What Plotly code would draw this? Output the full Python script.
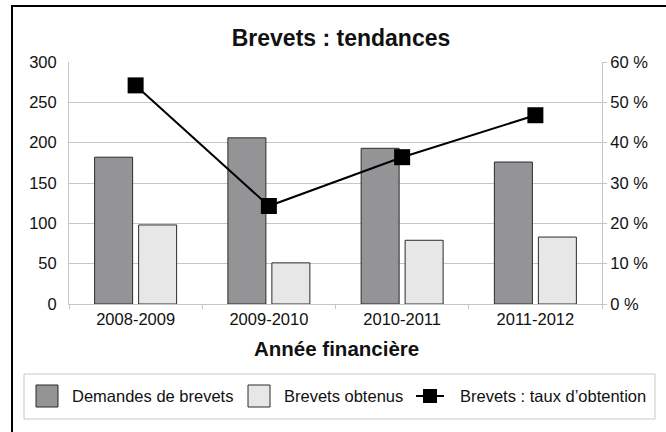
import plotly.graph_objects as go

categories = ["2008-2009", "2009-2010", "2010-2011", "2011-2012"]
demandes = [182, 206, 193, 176]
obtenus = [98, 51, 79, 83]
taux = [54.2, 24.3, 36.4, 46.8]

W, H = 666, 432
L, R, T, B = 69, 602, 62, 304  # plot area in pixels

def px(x):
    return (x - L) / (R - L)

def py(y):
    return (B - y) / (B - T)

FONT = "Liberation Sans, Arial, sans-serif"
TXT = "#111111"
DARK = "#949496"
LIGHT = "#e7e7e7"
EDGE = "#2b2b2b"
GRID = "#c6c6c6"

fig = go.Figure()
fig.add_trace(go.Bar(x=categories, y=demandes, name="Demandes de brevets",
                     marker=dict(color=DARK, line=dict(color=EDGE, width=1)),
                     showlegend=False))
fig.add_trace(go.Bar(x=categories, y=obtenus, name="Brevets obtenus",
                     marker=dict(color=LIGHT, line=dict(color=EDGE, width=1)),
                     showlegend=False))
fig.add_trace(go.Scatter(x=categories, y=taux, yaxis="y2", mode="lines+markers",
                         name="Brevets : taux d’obtention",
                         line=dict(color="black", width=2),
                         marker=dict(symbol="square", size=16, color="black"),
                         showlegend=False))

shapes = []
annotations = []

# outer frame
shapes.append(dict(type="rect", xref="paper", yref="paper",
                   x0=px(12), x1=px(720), y0=py(480), y1=py(6),
                   line=dict(color="black", width=2), fillcolor="rgba(0,0,0,0)", layer="below"))

# legend box
shapes.append(dict(type="rect", xref="paper", yref="paper",
                   x0=px(24), x1=px(655), y0=py(419), y1=py(374),
                   line=dict(color="#c8c8c8", width=1), fillcolor="white"))
ly = 396
legend_items = [
    (36, DARK, 70, "Demandes de brevets"),
    (248, LIGHT, 282, "Brevets obtenus"),
]
for sx, col, tx, label in legend_items:
    shapes.append(dict(type="rect", xref="paper", yref="paper",
                       x0=px(sx), x1=px(sx + 22), y0=py(ly + 11), y1=py(ly - 11),
                       line=dict(color=EDGE, width=1), fillcolor=col))
    annotations.append(dict(xref="paper", yref="paper", x=px(tx), y=py(ly),
                            xanchor="left", yanchor="middle", showarrow=False,
                            text=label, font=dict(family=FONT, size=16.5, color=TXT)))
shapes.append(dict(type="line", xref="paper", yref="paper",
                   x0=px(416), x1=px(444), y0=py(ly), y1=py(ly),
                   line=dict(color="black", width=2)))
shapes.append(dict(type="rect", xref="paper", yref="paper",
                   x0=px(423), x1=px(437), y0=py(ly + 7), y1=py(ly - 7),
                   line=dict(color="black", width=0), fillcolor="black"))
annotations.append(dict(xref="paper", yref="paper", x=px(458), y=py(ly),
                        xanchor="left", yanchor="middle", showarrow=False,
                        text="Brevets : taux d’obtention",
                        font=dict(family=FONT, size=16.5, color=TXT)))

# x-axis title
annotations.append(dict(xref="paper", yref="paper", x=px(336), y=py(348),
                        xanchor="center", yanchor="middle", showarrow=False,
                        text="<b>Année financière</b>",
                        font=dict(family=FONT, size=20.5, color=TXT)))

fig.update_layout(
    width=W, height=H,
    margin=dict(l=L, r=W - R, t=T, b=H - B, pad=0),
    paper_bgcolor="white", plot_bgcolor="white",
    font=dict(family=FONT, size=16.5, color=TXT),
    title=dict(text="<b>Brevets : tendances</b>", xref="container", yref="container",
               x=341 / W, y=1 - 38 / H, xanchor="center", yanchor="middle",
               font=dict(family=FONT, size=23, color=TXT)),
    barmode="group", bargap=0.34, bargroupgap=0.136,
    xaxis=dict(type="category", showgrid=False, showline=True, linecolor=GRID, linewidth=1,
               ticks="outside", tickson="boundaries", ticklen=4, tickcolor=GRID,
               tickfont=dict(family=FONT, size=16.5, color=TXT)),
    yaxis=dict(range=[0, 300], dtick=50, showgrid=True, gridcolor=GRID, gridwidth=1,
               showline=True, linecolor=GRID, linewidth=1, ticks="", zeroline=False,
               ticklabelstandoff=8,
               tickfont=dict(family=FONT, size=16.5, color=TXT)),
    yaxis2=dict(range=[0, 60], dtick=10, overlaying="y", side="right", showgrid=False,
                showline=True, linecolor=GRID, linewidth=1, ticks="outside", ticklen=4,
                tickcolor=GRID, ticksuffix=" %", zeroline=False,
                tickfont=dict(family=FONT, size=16.5, color=TXT)),
    shapes=shapes, annotations=annotations, showlegend=False,
)

fig.write_html("out.html", config={"displayModeBar": False},
               post_script="document.body.style.margin='0';")
